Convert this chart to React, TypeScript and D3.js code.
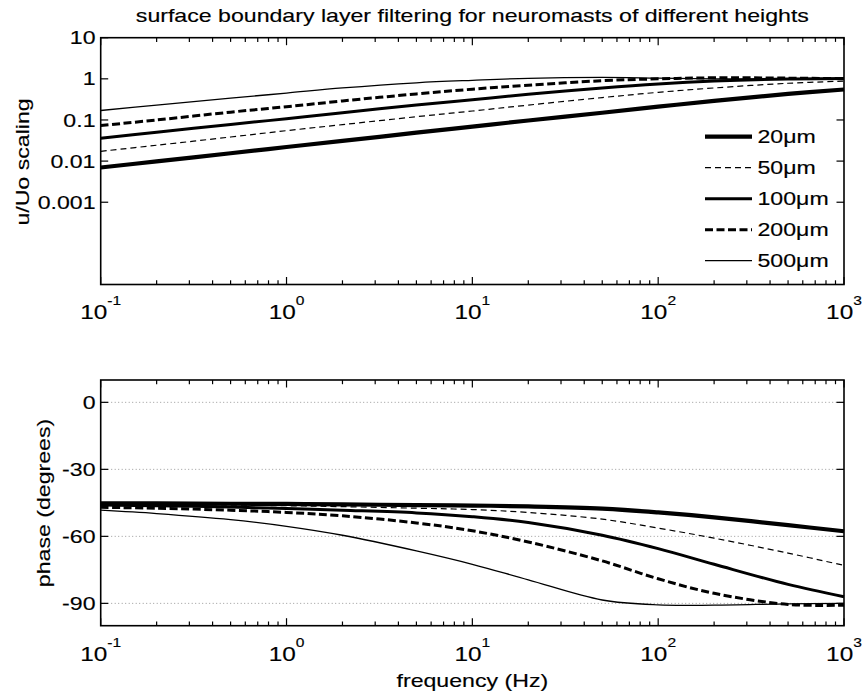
import React from "react";
import * as d3 from "d3";

// ---------- data ----------
const FREQ = [0.1, 0.2, 0.5, 1, 2, 5, 10, 20, 50, 100, 200, 500, 1000];
const HEIGHTS = ["20\u03bcm", "50\u03bcm", "100\u03bcm", "200\u03bcm", "500\u03bcm"];

const MAG_20 = [0.007, 0.0098, 0.0155, 0.022, 0.031, 0.049, 0.069, 0.097, 0.15, 0.21, 0.29, 0.43, 0.55];
const MAG_50 = [0.0173, 0.0243, 0.0385, 0.055, 0.077, 0.12, 0.165, 0.23, 0.35, 0.47, 0.6, 0.78, 0.88];
const MAG_100 = [0.036, 0.05, 0.078, 0.107, 0.15, 0.23, 0.31, 0.42, 0.6, 0.75, 0.88, 0.99, 1.02];
const MAG_200 = [0.073, 0.1, 0.155, 0.21, 0.29, 0.43, 0.56, 0.7, 0.9, 1.0, 1.06, 1.04, 1.01];
const MAG_500 = [0.17, 0.23, 0.34, 0.45, 0.6, 0.8, 0.92, 1.03, 1.08, 1.04, 1.0, 0.99, 1.0];

const PH_20 = [-45.2, -45.25, -45.4, -45.5, -45.7, -46.0, -46.2, -46.6, -47.6, -49.3, -51.5, -55.0, -57.7];
const PH_50 = [-45.5, -45.7, -46.0, -46.3, -46.7, -47.4, -48.0, -49.3, -52.3, -56.3, -60.8, -67.5, -73.0];
const PH_100 = [-46.0, -46.3, -46.9, -47.5, -48.3, -49.5, -51.2, -53.8, -59.5, -65.5, -72.5, -81.5, -87.0];
const PH_200 = [-47.0, -47.4, -48.3, -49.3, -50.8, -54.0, -57.5, -62.5, -71.0, -79.0, -85.5, -90.5, -90.8];
const PH_500 = [-48.3, -49.8, -52.5, -55.5, -59.5, -66.5, -72.5, -79.5, -88.5, -90.7, -90.8, -90.2, -90.0];

const MAGS = [MAG_20, MAG_50, MAG_100, MAG_200, MAG_500];
const PHASES = [PH_20, PH_50, PH_100, PH_200, PH_500];

const X_TICKS = [0.1, 1, 10, 100, 1000];
const X_EXP = ["-1", "0", "1", "2", "3"];
const MAG_TICKS = [0.001, 0.01, 0.1, 1, 10];
const MAG_TICK_LABELS = ["0.001", "0.01", "0.1", "1", "10"];
const PH_TICKS = [0, -30, -60, -90];

const TITLE = "surface boundary layer filtering for neuromasts of different heights";
const YLABEL_TOP = "u/Uo scaling";
const YLABEL_BOT = "phase (degrees)";
const XLABEL = "frequency (Hz)";

// ---------- styles ----------
const STYLES = [
  { w: 4.2, dash: "" },
  { w: 1.2, dash: "6,4" },
  { w: 3.0, dash: "" },
  { w: 3.0, dash: "8,3.5" },
  { w: 1.3, dash: "" },
];

const FONT = "Liberation Sans, Arial, Helvetica, sans-serif";
const FS = 18.5;
const SX = 1.25;

const W = 862;
const H = 696;
const X0 = 100.7;
const X1 = 844;
const TOP_Y0 = 37.7;
const TOP_Y1 = 284.5;
const BOT_Y0 = 380;
const BOT_Y1 = 625.7;

function T({ x, y, anchor = "start", rotate = 0, size = FS, children }: any) {
  return (
    <text
      transform={`translate(${x},${y}) rotate(${rotate}) scale(${SX},1)`}
      textAnchor={anchor}
      fontFamily={FONT}
      fontSize={size}
      fill="#000"
      stroke="#000"
      strokeWidth={0.15}
    >
      {children}
    </text>
  );
}

function minorTicks(): number[] {
  const out: number[] = [];
  for (let e = -1; e < 3; e++) {
    for (let m = 2; m <= 9; m++) out.push(m * Math.pow(10, e));
  }
  return out;
}

export default function App() {
  const x = d3.scaleLog().domain([0.1, 1000]).range([X0, X1]);
  const yMag = d3.scaleLog().domain([1e-5, 10]).range([TOP_Y1, TOP_Y0]);
  const yPh = d3.scaleLinear().domain([-100, 10]).range([BOT_Y1, BOT_Y0]);

  const magLine = d3
    .line<number>()
    .x((_, i) => x(FREQ[i]))
    .y((d) => yMag(d))
    .curve(d3.curveCatmullRom.alpha(0.5));
  const phLine = d3
    .line<number>()
    .x((_, i) => x(FREQ[i]))
    .y((d) => yPh(d))
    .curve(d3.curveCatmullRom.alpha(0.5));

  const minors = minorTicks();

  const xAxisTicks = (y0: number, y1: number, key: string) => (
    <g key={key} stroke="#000" strokeWidth={1.2}>
      {X_TICKS.map((t) => (
        <g key={"M" + t}>
          <line x1={x(t)} x2={x(t)} y1={y1} y2={y1 - 7.5} />
          <line x1={x(t)} x2={x(t)} y1={y0} y2={y0 + 7.5} />
        </g>
      ))}
      {minors.map((t) => (
        <g key={"m" + t}>
          <line x1={x(t)} x2={x(t)} y1={y1} y2={y1 - 4.2} />
          <line x1={x(t)} x2={x(t)} y1={y0} y2={y0 + 4.2} />
        </g>
      ))}
    </g>
  );

  const xLabels = (baseY: number, key: string) => (
    <g key={key}>
      {X_TICKS.map((t, i) => (
        <T key={t} x={x(t)} y={baseY} anchor="middle" size={19.5}>
          10
          <tspan dy={-14} fontSize={12.5}>
            {X_EXP[i]}
          </tspan>
        </T>
      ))}
    </g>
  );

  return (
    <svg
      width={W}
      height={H}
      style={{ position: "absolute", left: 0, top: 0, background: "#fff" }}
    >
      <rect x={0} y={0} width={W} height={H} fill="#fff" />
      {/* Title */}
      <T x={(X0 + X1) / 2} y={21.7} anchor="middle">
        {TITLE}
      </T>

      {/* ---------- top panel ---------- */}
      <rect x={X0} y={TOP_Y0} width={X1 - X0} height={TOP_Y1 - TOP_Y0} fill="#fff" />
      <g fill="none" stroke="#000">
        {MAGS.map((s, i) => (
          <path
            key={i}
            d={magLine(s) || ""}
            strokeWidth={STYLES[i].w}
            strokeDasharray={STYLES[i].dash}
          />
        ))}
      </g>
      {xAxisTicks(TOP_Y0, TOP_Y1, "xt1")}
      <g stroke="#000" strokeWidth={1.2}>
        {MAG_TICKS.map((t) => (
          <g key={t}>
            <line x1={X0} x2={X0 + 7.5} y1={yMag(t)} y2={yMag(t)} />
            <line x1={X1} x2={X1 - 7.5} y1={yMag(t)} y2={yMag(t)} />
          </g>
        ))}
      </g>
      <rect
        x={X0}
        y={TOP_Y0}
        width={X1 - X0}
        height={TOP_Y1 - TOP_Y0}
        fill="none"
        stroke="#000"
        strokeWidth={1.6}
      />
      {MAG_TICKS.map((t, i) => (
        <T key={t} x={95.5} y={yMag(t) + 6.6} anchor="end">
          {MAG_TICK_LABELS[i]}
        </T>
      ))}
      {xLabels(319.3, "xl1")}
      <T x={28.5} y={162} anchor="middle" rotate={-90}>
        {YLABEL_TOP}
      </T>

      {/* legend */}
      <g>
        {HEIGHTS.map((name, i) => {
          const ly = 136.7 + i * 31;
          return (
            <g key={name}>
              <line
                x1={705}
                x2={752}
                y1={ly}
                y2={ly}
                stroke="#000"
                strokeWidth={STYLES[i].w}
                strokeDasharray={STYLES[i].dash}
              />
              <T x={757.5} y={ly + 6.6}>
                {name}
              </T>
            </g>
          );
        })}
      </g>

      {/* ---------- bottom panel ---------- */}
      <rect x={X0} y={BOT_Y0} width={X1 - X0} height={BOT_Y1 - BOT_Y0} fill="#fff" />
      <g stroke="#999" strokeWidth={1} strokeDasharray="1,2.5">
        {PH_TICKS.map((t) => (
          <line key={t} x1={X0} x2={X1} y1={yPh(t)} y2={yPh(t)} />
        ))}
      </g>
      <g fill="none" stroke="#000">
        {PHASES.map((s, i) => (
          <path
            key={i}
            d={phLine(s) || ""}
            strokeWidth={STYLES[i].w}
            strokeDasharray={STYLES[i].dash}
          />
        ))}
      </g>
      {xAxisTicks(BOT_Y0, BOT_Y1, "xt2")}
      <g stroke="#000" strokeWidth={1.2}>
        {PH_TICKS.map((t) => (
          <g key={t}>
            <line x1={X0} x2={X0 + 7.5} y1={yPh(t)} y2={yPh(t)} />
            <line x1={X1} x2={X1 - 7.5} y1={yPh(t)} y2={yPh(t)} />
          </g>
        ))}
      </g>
      <rect
        x={X0}
        y={BOT_Y0}
        width={X1 - X0}
        height={BOT_Y1 - BOT_Y0}
        fill="none"
        stroke="#000"
        strokeWidth={1.6}
      />
      {PH_TICKS.map((t) => (
        <T key={t} x={95.5} y={yPh(t) + 6.6} anchor="end">
          {String(t)}
        </T>
      ))}
      {xLabels(660.7, "xl2")}
      <T x={50.2} y={503} anchor="middle" rotate={-90}>
        {YLABEL_BOT}
      </T>
      <T x={(X0 + X1) / 2} y={686.7} anchor="middle">
        {XLABEL}
      </T>
    </svg>
  );
}
